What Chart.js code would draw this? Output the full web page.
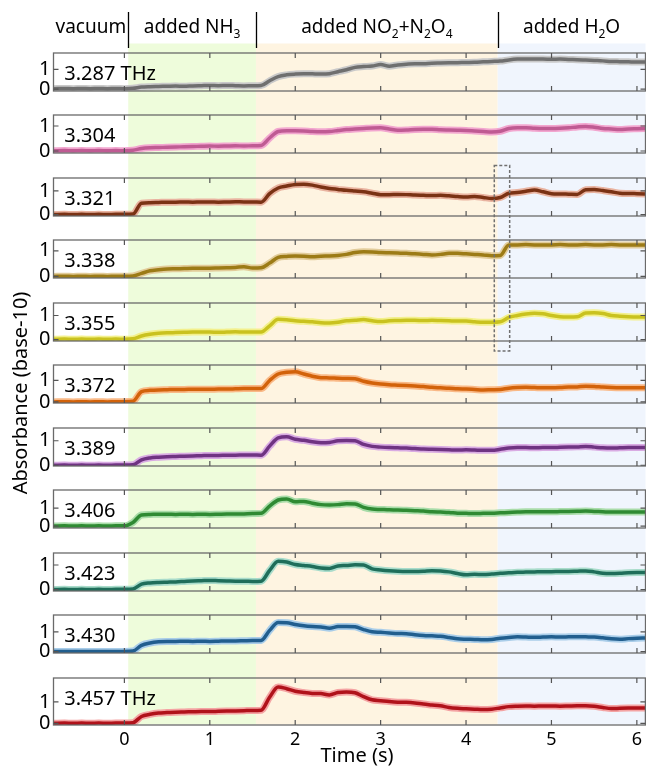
<!DOCTYPE html>
<html>
<head>
<meta charset="utf-8">
<script src="https://cdn.jsdelivr.net/npm/chart.js@4.4.1/dist/chart.umd.min.js"></script>
<style>
  body { margin: 0; background: #fff; }
  #wrap { position: relative; width: 646px; height: 768px; overflow: hidden; }
  #wrap canvas { position: absolute; left: 0; }
</style>
</head>
<body>
<div id="wrap">
  <canvas id="bg" width="646" height="768" style="top:0"></canvas>
</div>
<script>
// time axis (s)
var times = [-0.83,-0.7,-0.6,-0.5,-0.4,-0.3,-0.2,-0.1,
  0,0.1,0.2,0.3,0.4,0.5,0.6,0.7,0.8,0.9,
  1,1.1,1.2,1.3,1.4,1.5,1.6,1.7,1.8,1.9,
  2,2.1,2.2,2.3,2.4,2.5,2.6,2.7,2.8,2.9,
  3,3.1,3.2,3.3,3.4,3.5,3.6,3.7,3.8,3.9,
  4,4.1,4.2,4.3,4.4,4.5,4.6,4.7,4.8,4.9,
  5,5.1,5.2,5.3,5.4,5.5,5.6,5.7,5.8,5.9,
  6,6.1];

var panelLabels = ["3.287 THz","3.304","3.321","3.338","3.355","3.372","3.389","3.406","3.423","3.430","3.457 THz"];

var s3287 = [0.02,0.03,0.02,0.03,0.02,0.03,0.02,0.03,
  0.02,0.04,0.10,0.12,0.13,0.14,0.15,0.14,0.16,0.17,
  0.18,0.17,0.18,0.17,0.16,0.17,0.18,0.42,0.63,0.72,
  0.76,0.78,0.77,0.76,0.78,0.88,0.98,1.10,1.14,1.17,
  1.24,1.16,1.22,1.26,1.29,1.29,1.31,1.32,1.33,1.34,
  1.35,1.36,1.38,1.40,1.42,1.48,1.52,1.53,1.52,1.52,
  1.51,1.52,1.50,1.49,1.47,1.45,1.43,1.40,1.39,1.38,
  1.37,1.37];
var s3304 = [0.01,0.02,0.01,0.02,0.01,0.02,0.01,0.02,
  0.01,0.03,0.10,0.13,0.14,0.15,0.16,0.17,0.18,0.19,
  0.20,0.19,0.20,0.21,0.20,0.21,0.22,0.52,0.78,0.81,
  0.81,0.80,0.78,0.77,0.78,0.82,0.86,0.88,0.90,0.92,
  0.93,0.88,0.83,0.84,0.86,0.87,0.87,0.85,0.84,0.83,
  0.82,0.80,0.78,0.76,0.79,0.90,0.93,0.93,0.91,0.90,
  0.90,0.91,0.93,0.96,0.98,0.95,0.90,0.88,0.86,0.88,
  0.89,0.90];
var s3321 = [0.00,0.01,0.00,0.01,0.00,0.01,0.00,0.01,
  0.01,0.02,0.48,0.50,0.51,0.52,0.52,0.53,0.52,0.53,
  0.53,0.52,0.53,0.54,0.53,0.53,0.52,0.88,1.12,1.20,
  1.27,1.28,1.24,1.16,1.10,1.06,1.02,0.99,0.96,0.90,
  0.84,0.84,0.85,0.84,0.82,0.81,0.80,0.81,0.79,0.76,
  0.74,0.76,0.72,0.68,0.72,0.90,0.93,0.98,1.03,0.96,
  0.88,0.87,0.86,0.85,1.05,1.06,1.01,0.96,0.90,0.89,
  0.88,0.87];
var s3338 = [0.00,0.01,0.00,0.01,0.00,0.01,0.00,0.01,
  0.01,0.02,0.12,0.22,0.26,0.29,0.30,0.31,0.32,0.32,
  0.32,0.33,0.34,0.35,0.38,0.33,0.34,0.52,0.74,0.78,
  0.80,0.79,0.77,0.79,0.80,0.82,0.86,0.93,0.96,0.95,
  0.93,0.92,0.91,0.90,0.88,0.86,0.84,0.86,0.90,0.90,
  0.88,0.86,0.84,0.81,0.82,1.23,1.23,1.24,1.23,1.23,
  1.23,1.24,1.23,1.23,1.24,1.23,1.23,1.24,1.23,1.23,
  1.23,1.23];
var s3355 = [0.01,0.02,0.01,0.02,0.01,0.02,0.01,0.02,
  0.01,0.03,0.15,0.22,0.26,0.28,0.29,0.30,0.31,0.31,
  0.31,0.30,0.31,0.32,0.31,0.31,0.31,0.57,0.84,0.82,
  0.78,0.76,0.74,0.70,0.69,0.72,0.78,0.80,0.83,0.78,
  0.75,0.78,0.79,0.80,0.80,0.79,0.80,0.79,0.78,0.77,
  0.77,0.74,0.72,0.72,0.74,0.92,1.00,1.06,1.09,1.07,
  1.00,0.95,0.94,0.95,1.10,1.11,1.08,1.00,0.97,0.95,
  0.94,0.94];
var s3372 = [0.00,0.01,0.00,0.01,0.00,0.01,0.00,0.01,
  0.01,0.03,0.48,0.54,0.56,0.57,0.58,0.58,0.59,0.59,
  0.59,0.60,0.60,0.61,0.62,0.62,0.62,1.00,1.30,1.38,
  1.40,1.30,1.20,1.13,1.12,1.10,1.09,1.08,0.96,0.88,
  0.83,0.80,0.78,0.76,0.74,0.72,0.68,0.66,0.64,0.61,
  0.60,0.58,0.56,0.57,0.58,0.64,0.67,0.68,0.67,0.66,
  0.66,0.67,0.69,0.70,0.73,0.72,0.69,0.67,0.66,0.66,
  0.66,0.66];
var s3389 = [0.00,0.01,0.00,0.01,0.00,0.01,0.00,0.01,
  0.01,0.02,0.22,0.30,0.33,0.35,0.36,0.37,0.38,0.39,
  0.40,0.40,0.41,0.41,0.42,0.42,0.41,0.78,1.12,1.16,
  1.06,1.02,0.96,0.92,0.93,1.00,1.01,1.00,0.85,0.77,
  0.74,0.72,0.71,0.70,0.68,0.66,0.65,0.64,0.63,0.62,
  0.63,0.62,0.61,0.61,0.65,0.70,0.72,0.72,0.71,0.72,
  0.72,0.73,0.74,0.75,0.77,0.74,0.71,0.70,0.71,0.72,
  0.72,0.72];
var s3406 = [0.00,0.01,0.00,0.01,0.00,0.01,0.00,0.01,
  0.01,0.20,0.62,0.65,0.66,0.66,0.65,0.66,0.65,0.66,
  0.65,0.66,0.67,0.67,0.68,0.70,0.71,1.12,1.46,1.52,
  1.36,1.38,1.28,1.20,1.18,1.20,1.25,1.24,1.05,0.95,
  0.93,0.91,0.90,0.88,0.86,0.84,0.80,0.78,0.76,0.72,
  0.71,0.70,0.71,0.72,0.74,0.76,0.78,0.80,0.80,0.80,
  0.80,0.81,0.82,0.83,0.84,0.82,0.80,0.78,0.78,0.78,
  0.78,0.78];
var s3423 = [0.00,0.01,0.00,0.01,0.00,0.01,0.00,0.01,
  0.01,0.02,0.22,0.27,0.29,0.30,0.31,0.33,0.35,0.36,
  0.37,0.36,0.35,0.34,0.34,0.33,0.34,0.78,1.15,1.12,
  1.02,0.98,0.94,0.88,0.86,0.96,0.98,1.01,1.00,0.84,
  0.80,0.77,0.75,0.74,0.74,0.75,0.77,0.76,0.72,0.65,
  0.60,0.62,0.61,0.63,0.66,0.68,0.70,0.71,0.72,0.73,
  0.73,0.74,0.74,0.75,0.76,0.72,0.66,0.65,0.66,0.68,
  0.69,0.69];
var s3430 = [0.00,0.01,0.00,0.01,0.00,0.01,0.00,0.01,
  0.01,0.03,0.32,0.44,0.50,0.52,0.52,0.53,0.52,0.53,
  0.52,0.53,0.54,0.54,0.55,0.56,0.57,1.08,1.48,1.47,
  1.38,1.31,1.27,1.25,1.19,1.27,1.28,1.26,1.12,1.01,
  0.98,0.95,0.92,0.91,0.86,0.82,0.80,0.78,0.72,0.65,
  0.63,0.62,0.60,0.62,0.68,0.72,0.75,0.74,0.73,0.74,
  0.75,0.74,0.75,0.76,0.75,0.74,0.70,0.65,0.63,0.66,
  0.68,0.69];
var s3457 = [0.00,0.01,0.00,0.01,0.00,0.01,0.00,0.01,
  0.01,0.03,0.32,0.42,0.48,0.50,0.52,0.53,0.54,0.55,
  0.55,0.56,0.57,0.58,0.59,0.60,0.61,1.22,1.70,1.62,
  1.50,1.44,1.40,1.39,1.33,1.44,1.47,1.43,1.25,1.10,
  1.06,1.02,0.99,0.98,0.95,0.90,0.86,0.82,0.74,0.70,
  0.68,0.66,0.64,0.66,0.72,0.78,0.80,0.81,0.80,0.81,
  0.81,0.80,0.81,0.82,0.82,0.80,0.74,0.69,0.70,0.71,
  0.72,0.72];

var series = [s3287, s3304, s3321, s3338, s3355, s3372, s3389, s3406, s3423, s3430, s3457];
var yMins = [-0.10,-0.08,-0.06,-0.06,-0.06,-0.05,-0.03,-0.11,-0.06,-0.07,-0.08];
var yMaxs = [1.83,1.44,1.54,1.42,1.52,1.72,1.52,2.02,1.49,1.86,2.12];

var darkColors = ["#6f6f6f","#bf5b93","#7a3214","#9c7b16","#c9c21f","#d2620a","#6f3382","#2f8a33","#1f6e5a","#215e8e","#b0121a"];
var lightColors = ["#c9c9c9","#f2a6cf","#e9b3a0","#e2cc9a","#f3f08c","#f9b987","#d9abe3","#a9dca9","#a9dccb","#a9cde9","#f4a3a3"];

var xTicks = [0,1,2,3,4,5,6];
var yTicks = [0,1];

// experiment phases
var phaseEdges = [-0.83, 0.045, 1.54, 4.37, 6.1];
var phaseColors = ["#ffffff","#eefcdb","#fef4e1","#f0f5fd"];
var phaseNames = [
  [["vacuum",0]],
  [["added NH",0],["3",1]],
  [["added NO",0],["2",1],["+N",0],["2",1],["O",0],["4",1]],
  [["added H",0],["2",1],["O",0]]
];

var FONT = '"Noto Sans", "DejaVu Sans", sans-serif';
Chart.defaults.font.family = FONT;
Chart.defaults.color = "#000";

var plotTop = 43.5, pitch = 62.5, panelH = 56, pad = 6, axisH = 30;

var panelPlugin = {
  id: "panel",
  afterDatasetsDraw: function(chart, args, opts) {
    var ctx = chart.ctx, a = chart.chartArea, x = chart.scales.x, y = chart.scales.y;
    ctx.save();
    ctx.strokeStyle = "#6a6a6a";
    ctx.lineWidth = 1.3;
    ctx.strokeRect(a.left, a.top, a.right - a.left, a.bottom - a.top);
    ctx.strokeStyle = "#555";
    ctx.lineWidth = 1.2;
    ctx.beginPath();
    xTicks.forEach(function(v) {
      var px = x.getPixelForValue(v);
      ctx.moveTo(px, a.top); ctx.lineTo(px, a.top + 5);
      ctx.moveTo(px, a.bottom); ctx.lineTo(px, a.bottom - 5);
    });
    yTicks.forEach(function(v) {
      var py = y.getPixelForValue(v);
      ctx.moveTo(a.left, py); ctx.lineTo(a.left + 5, py);
      ctx.moveTo(a.right, py); ctx.lineTo(a.right - 5, py);
    });
    ctx.stroke();
    ctx.fillStyle = "#000";
    ctx.font = "20px " + FONT;
    ctx.textBaseline = "alphabetic";
    ctx.fillText(opts.label, a.left + 10.8, a.top + 26.5);
    ctx.restore();
  }
};

var wrap = document.getElementById("wrap");
var charts = [];

for (var i = 0; i < series.length; i++) {
  var last = i === series.length - 1;
  var cv = document.createElement("canvas");
  cv.width = 646;
  cv.height = pad + panelH + (last ? axisH : pad);
  cv.style.top = (plotTop + i * pitch - pad) + "px";
  wrap.appendChild(cv);

  var darkPts = [], lightPts = [];
  for (var k = 0; k < times.length; k++) {
    darkPts.push({ x: times[k], y: series[i][k] });
    lightPts.push({ x: times[k], y: series[i][k] });
  }

  var xAxis = {
    type: "linear",
    min: phaseEdges[0],
    max: phaseEdges[phaseEdges.length - 1],
    display: last,
    grid: { display: false, drawTicks: false },
    border: { display: false },
    afterBuildTicks: function(s) { s.ticks = xTicks.map(function(v) { return { value: v }; }); },
    ticks: { font: { size: 18 }, padding: 4, maxRotation: 0, autoSkip: false }
  };
  if (last) xAxis.afterFit = function(s) { s.height = axisH; };

  charts.push(new Chart(cv, {
    type: "line",
    data: {
      datasets: [
        { data: darkPts, borderColor: darkColors[i], borderWidth: 3.5, pointRadius: 0, cubicInterpolationMode: "monotone" },
        { data: lightPts, borderColor: lightColors[i], borderWidth: 7, pointRadius: 0, cubicInterpolationMode: "monotone" }
      ]
    },
    options: {
      responsive: false,
      animation: false,
      events: [],
      layout: { padding: { top: pad, bottom: last ? 0 : pad, left: 0, right: 0.5 } },
      plugins: { legend: { display: false }, tooltip: { enabled: false }, panel: { label: panelLabels[i] } },
      scales: {
        x: xAxis,
        y: {
          min: yMins[i],
          max: yMaxs[i],
          grid: { display: false, drawTicks: false },
          border: { display: false },
          afterBuildTicks: function(s) { s.ticks = yTicks.map(function(v) { return { value: v }; }); },
          afterFit: function(s) { s.width = 53.5; },
          ticks: { font: { size: 20 }, padding: 3, autoSkip: false }
        }
      }
    },
    plugins: [panelPlugin]
  }));
}

// phase backgrounds behind all panels
var xs = charts[0].scales.x;
var plotBottom = plotTop + (series.length - 1) * pitch + panelH;
var bg = document.getElementById("bg").getContext("2d");
for (var p = 0; p < phaseColors.length; p++) {
  var x0 = xs.getPixelForValue(phaseEdges[p]);
  var x1 = xs.getPixelForValue(phaseEdges[p + 1]);
  bg.fillStyle = phaseColors[p];
  bg.fillRect(x0, plotTop, x1 - x0, plotBottom - plotTop);
}

// overlay: header, dashed box, axis titles
var ov = document.createElement("canvas");
ov.width = 646; ov.height = 768; ov.style.top = "0px";
wrap.appendChild(ov);
var c = ov.getContext("2d");

function richText(parts, cx, base, size) {
  var big = size + "px " + FONT, small = Math.round(size * 0.62) + "px " + FONT;
  var w = 0;
  parts.forEach(function(q) { c.font = q[1] ? small : big; w += c.measureText(q[0]).width; });
  var x = cx - w / 2;
  parts.forEach(function(q) {
    c.font = q[1] ? small : big;
    c.fillText(q[0], x, base + (q[1] ? 5 : 0));
    x += c.measureText(q[0]).width;
  });
}

c.fillStyle = "#000";
c.textBaseline = "alphabetic";
for (var p = 0; p < phaseNames.length; p++) {
  var cx = (xs.getPixelForValue(phaseEdges[p]) + xs.getPixelForValue(phaseEdges[p + 1])) / 2;
  richText(phaseNames[p], cx, 33, 19);
}
c.strokeStyle = "#000";
c.lineWidth = 1.3;
c.beginPath();
for (var p = 1; p < phaseEdges.length - 1; p++) {
  var px = Math.round(xs.getPixelForValue(phaseEdges[p])) + 0.5;
  c.moveTo(px, 12); c.lineTo(px, 48);
}
c.stroke();

// dashed box around the H2O onset in panels 3.321-3.355
var bx0 = xs.getPixelForValue(4.33), bx1 = xs.getPixelForValue(4.51);
var by0 = plotTop + 2 * pitch - 3, by1 = plotTop + 4 * pitch + panelH + 1.5;
c.save();
c.setLineDash([3, 2]);
c.strokeStyle = "#707070";
c.lineWidth = 1.5;
c.strokeRect(bx0, by0, bx1 - bx0, by1 - by0);
c.restore();

c.font = "20px " + FONT;
c.textAlign = "center";
c.fillText("Time (s)", 357, 762);
c.save();
c.translate(27, 393);
c.rotate(-Math.PI / 2);
c.fillText("Absorbance (base-10)", 0, 0);
c.restore();
</script>
</body>
</html>
